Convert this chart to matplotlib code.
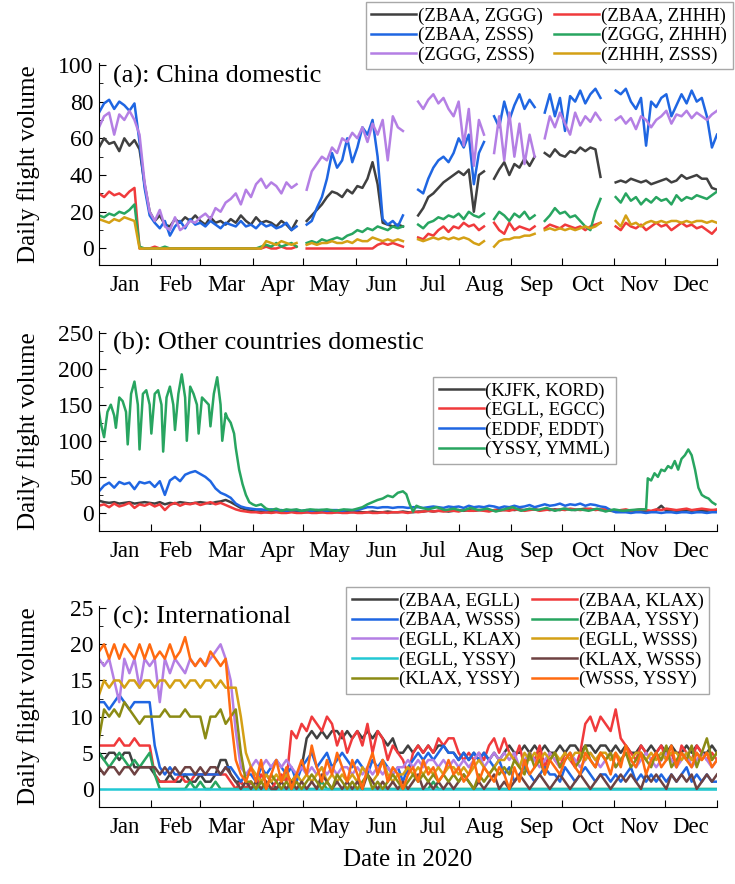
import matplotlib
matplotlib.use('Agg')
import matplotlib.pyplot as plt
import numpy as np

plt.rcParams['font.family'] = ['Liberation Serif', 'DejaVu Serif']
plt.rcParams['font.size'] = 16

nan = np.nan

# sample days (every 3 days, day 0 = 1 Jan 2020)
days = np.arange(0, 367, 3)
months = ['Jan', 'Feb', 'Mar', 'Apr', 'May', 'Jun', 'Jul', 'Aug', 'Sep', 'Oct', 'Nov', 'Dec']
month_len = [31, 29, 31, 30, 31, 30, 31, 31, 30, 31, 30, 31]

# ---- (a) China domestic ----
zbaa_zggg = [55, 60, 57, 58, 53, 60, 56, 59, 54, 35,
             20, 15, 18, 13, 12, 16, 14, 17, 15, 18,
             15, 13, 17, 14, 15, 13, 16, 14, 18, 15,
             13, 17, 14, 15, 14, 12, 15, 13, 10, 15,
             nan, 15, 18, 21, 24, 28, 31, 30, 28, 32,
             30, 34, 33, 38, 47, 35, 14, 13, 12, 13,
             12, nan, nan, 18, 22, 28, 30, 33, 36, 38,
             40, 42, 40, 43, 20, 40, 42, nan, 38, 43,
             47, 40, 46, 44, 49, 45, 50, nan, 52, 50,
             54, 51, 50, 53, 52, 55, 53, 55, 54, 39,
             nan, nan, 36, 37, 36, 38, 37, 36, 37, 35,
             36, 37, 38, 36, 37, 40, 38, 39, 40, 38,
             38, 33, 32]
zbaa_zhhh = [30, 28, 31, 29, 30, 28, 31, 33, 0, 0,
             0, 1, 0, 0, 0, 0, 0, 0, 0, 0,
             0, 0, 0, 0, 0, 0, 0, 0, 0, 0,
             0, 0, 0, 1, 0, 0, 1, 0, 0, 1,
             nan, 0, 0, 0, 0, 0, 0, 0, 0, 0,
             0, 0, 0, 0, 0, 2, 3, 2, 3, 2,
             1, nan, nan, 6, 5, 8, 7, 10, 12, 9,
             12, 11, 14, 12, 13, 10, 12, nan, 14, 10,
             8, 14, 10, 12, 11, 10, 12, nan, 11, 13,
             12, 11, 13, 12, 11, 12, 10, 12, 13, 14,
             nan, nan, 12, 10, 14, 12, 11, 13, 10, 12,
             14, 12, 13, 10, 12, 14, 12, 13, 11, 12,
             10, 8, 11]
zbaa_zsss = [74, 79, 81, 76, 80, 78, 75, 79, 58, 33,
             18, 14, 11, 15, 7, 12, 15, 11, 16, 13,
             14, 12, 15, 13, 11, 14, 13, 12, 15, 12,
             13, 11, 14, 12, 13, 11, 12, 14, 10, 12,
             nan, 13, 15, 22, 28, 38, 52, 44, 48, 60,
             47, 55, 66, 62, 70, 50, 16, 13, 15, 12,
             18, nan, nan, 32, 30, 38, 44, 48, 50, 47,
             52, 60, 55, 62, 35, 52, 58, nan, 72, 66,
             80, 70, 78, 84, 76, 81, 77, nan, 74, 84,
             72, 82, 64, 83, 80, 86, 79, 84, 87, 82,
             nan, nan, 86, 84, 87, 80, 76, 82, 56, 80,
             77, 82, 84, 72, 78, 84, 79, 86, 80, 82,
             72, 55, 62]
zggg_zhhh = [18, 17, 19, 18, 20, 19, 21, 24, 1, 0,
             0, 0, 0, 1, 0, 0, 0, 0, 0, 0,
             0, 0, 0, 0, 0, 0, 0, 0, 0, 0,
             0, 0, 1, 2, 1, 3, 1, 2, 3, 1,
             nan, 3, 4, 3, 5, 4, 5, 6, 5, 7,
             8, 10, 9, 11, 10, 12, 11, 10, 12, 11,
             12, nan, nan, 13, 11, 14, 15, 17, 16, 18,
             17, 19, 16, 20, 18, 17, 19, nan, 16, 20,
             18, 15, 19, 17, 20, 16, 18, nan, 15, 18,
             22, 19, 20, 17, 18, 15, 12, 10, 20, 27,
             nan, nan, 28, 25, 30, 26, 28, 24, 27, 25,
             28, 26, 27, 24, 29, 26, 28, 27, 29, 28,
             27, 29, 31]
zggg_zsss = [66, 72, 74, 62, 73, 70, 75, 70, 62, 36,
             20, 15, 21, 12, 10, 17, 10, 12, 15, 14,
             17, 19, 16, 22, 20, 25, 27, 30, 24, 32,
             28, 35, 38, 33, 36, 34, 30, 36, 33, 35,
             nan, 32, 42, 46, 50, 48, 55, 52, 60, 58,
             63, 60, 66, 58, 68, 62, 70, 48, 72, 66,
             64, nan, nan, 80, 76, 81, 84, 79, 82, 76,
             72, 80, 56, 76, 45, 70, 62, nan, 52, 72,
             48, 74, 50, 68, 46, 62, 50, nan, 60, 72,
             66, 74, 68, 62, 74, 67, 72, 69, 74, 70,
             nan, nan, 70, 72, 68, 71, 65, 72, 70, 66,
             70, 72, 75, 68, 73, 72, 75, 71, 74, 72,
             70, 73, 75]
zhhh_zsss = [16, 15, 14, 16, 15, 17, 16, 15, 0, 0,
             0, 0, 0, 0, 0, 0, 0, 0, 0, 0,
             0, 0, 0, 0, 0, 0, 0, 0, 0, 0,
             0, 0, 0, 4, 3, 2, 4, 3, 2, 3,
             nan, 2, 3, 2, 3, 3, 4, 3, 3, 4,
             3, 5, 4, 4, 6, 5, 4, 5, 4, 5,
             4, nan, nan, 5, 4, 5, 6, 5, 6, 5,
             6, 5, 6, 5, 3, 2, 4, nan, 1, 4,
             5, 5, 6, 6, 7, 7, 8, nan, 10, 11,
             10, 11, 10, 11, 10, 11, 12, 11, 12, 14,
             nan, nan, 15, 12, 18, 13, 14, 12, 14, 15,
             14, 15, 14, 15, 15, 14, 15, 14, 15, 15,
             14, 15, 14]

# ---- (b) Other countries domestic ----
kjfk_kord = [17, 15, 14, 15, 13, 14, 15, 13, 14, 15,
             14, 13, 15, 12, 14, 13, 15, 14, 13, 14,
             15, 14, 13, 15, 16, 18, 15, 11, 7, 5,
             3, 2, 2, 1, 1, 2, 1, 1, 2, 1,
             1, 1, 2, 1, 1, 2, 1, 1, 1, 2,
             1, 2, 1, 1, 2, 1, 1, 2, 1, 1,
             2, 1, 1, 2, 2, 3, 2, 3, 3, 2,
             3, 4, 3, 4, 3, 4, 4, 3, 4, 5,
             4, 5, 4, 5, 4, 5, 5, 4, 5, 4,
             5, 4, 6, 5, 4, 5, 6, 5, 5, 4,
             4, 3, 2, 3, 2, 3, 3, 2, 3, 2,
             4, 10, 3, 4, 3, 3, 4, 3, 4, 3,
             3, 4, 3]
egll_egcc = [10, 12, 8, 13, 9, 11, 14, 7, 12, 10,
             13, 9, 12, 4, 11, 14, 10, 13, 12, 14,
             11, 13, 15, 12, 14, 11, 8, 5, 3, 2,
             1, 1, 0, 1, 0, 1, 0, 0, 1, 0,
             0, 1, 0, 0, 1, 0, 0, 1, 0, 0,
             1, 0, 0, 1, 0, 0, 1, 0, 1, 1,
             1, 0, 2, 1, 2, 3, 2, 3, 2, 3,
             3, 2, 4, 3, 3, 4, 3, 2, 4, 3,
             4, 3, 5, 4, 3, 4, 5, 3, 4, 5,
             4, 5, 4, 6, 5, 4, 5, 6, 4, 5,
             5, 4, 3, 4, 5, 3, 4, 5, 4, 3,
             5, 4, 6, 5, 4, 5, 6, 4, 5, 6,
             5, 4, 5]
eddf_eddt = [30, 38, 42, 35, 43, 40, 42, 33, 43, 41,
             43, 36, 44, 25, 45, 50, 44, 53, 56, 58,
             54, 50, 44, 34, 28, 25, 21, 13, 9, 7,
             6, 5, 5, 4, 5, 4, 4, 3, 4, 4,
             3, 4, 3, 4, 4, 3, 4, 4, 3, 4,
             4, 4, 6, 8, 8, 7, 8, 8, 7, 8,
             8, 7, 8, 8, 7, 8, 9, 8, 7, 9,
             8, 9, 7, 10, 8, 9, 8, 10, 9, 7,
             9, 8, 10, 8, 9, 11, 8, 10, 12, 10,
             11, 13, 10, 12, 11, 13, 10, 12, 11, 9,
             8, 4, 1, 1, 1, 0, 1, 1, 0, 1,
             1, 0, 1, 1, 0, 1, 1, 0, 1, 1,
             0, 1, 1]
# (YSSY, YMML) has a weekly cycle, so it is read at its own days
yssy_ymml = [(0, 140), (1, 125), (3, 105), (5, 140), (7, 150), (9, 135), (10, 118),
             (12, 160), (14, 155), (16, 140), (17, 95), (19, 165), (21, 182),
             (23, 150), (24, 88), (26, 165), (28, 170), (30, 150), (31, 110),
             (33, 165), (35, 170), (37, 150), (38, 85), (40, 160), (42, 175),
             (44, 150), (45, 115), (47, 165), (49, 192), (51, 160), (52, 100),
             (54, 175), (56, 165), (58, 150), (59, 110), (61, 160), (63, 155),
             (65, 150), (66, 120), (68, 165), (70, 188), (72, 150), (73, 100),
             (75, 138), (76, 132), (78, 125), (80, 110), (81, 90), (83, 60),
             (85, 40), (87, 25), (89, 15), (91, 12), (93, 10), (96, 12), (99, 6),
             (102, 4), (105, 6), (108, 3), (111, 5), (114, 4), (117, 5), (120, 3),
             (125, 5), (130, 4), (135, 5), (140, 3), (145, 5), (150, 4), (153, 6),
             (156, 8), (159, 12), (162, 15), (165, 18), (168, 20), (171, 24),
             (174, 22), (177, 28), (180, 30), (182, 26), (184, 12), (186, 2),
             (188, 10), (191, 7), (195, 5), (200, 8), (205, 4), (210, 6), (215, 3),
             (220, 7), (225, 4), (230, 6), (235, 2), (240, 5), (245, 8), (250, 3),
             (255, 6), (260, 4), (265, 7), (270, 3), (275, 6), (280, 4), (285, 5),
             (290, 3), (295, 6), (300, 2), (305, 5), (310, 3), (315, 4), (320, 5),
             (324, 5), (325, 48), (327, 45), (329, 55), (331, 50), (333, 60),
             (335, 58), (337, 65), (339, 62), (341, 72), (343, 60), (345, 75),
             (347, 80), (349, 88), (351, 80), (353, 60), (355, 35), (357, 25),
             (359, 22), (361, 20), (363, 15), (365, 12)]

# ---- (c) International ----
zbaa_egll = [5, 4, 5, 5, 4, 5, 5, 3, 3, 3,
             3, 2, 1, 1, 2, 1, 1, 2, 1, 1,
             2, 1, 1, 2, 4, 4, 2, 1, 1, 0,
             1, 0, 1, 2, 1, 0, 1, 2, 1, 2,
             3, 7, 8, 7, 8, 7, 8, 8, 7, 8,
             7, 8, 7, 8, 7, 8, 7, 6, 7, 5,
             5, 6, 5, 6, 5, 6, 5, 6, 6, 5,
             5, 4, 5, 4, 5, 4, 5, 4, 5, 4,
             5, 6, 5, 5, 6, 5, 6, 5, 6, 5,
             5, 6, 5, 6, 6, 5, 6, 6, 5, 6,
             6, 5, 6, 5, 6, 5, 5, 6, 5, 6,
             5, 6, 5, 6, 5, 5, 6, 5, 6, 5,
             5, 6, 5]
zbaa_klax = [6, 6, 6, 6, 7, 6, 6, 7, 6, 6,
             6, 2, 1, 1, 1, 1, 2, 1, 1, 2,
             2, 2, 2, 2, 2, 2, 1, 0, 1, 0,
             1, 0, 2, 1, 0, 1, 2, 1, 8, 7,
             9, 8, 10, 9, 8, 10, 9, 6, 8, 5,
             7, 8, 6, 9, 5, 8, 7, 4, 6, 5,
             4, 2, 5, 6, 5, 6, 5, 7, 6, 7,
             7, 5, 4, 5, 4, 5, 4, 6, 7, 5,
             7, 5, 4, 6, 3, 5, 4, 6, 3, 5,
             4, 3, 5, 4, 3, 5, 9, 10, 8, 10,
             9, 8, 11, 7, 6, 5, 4, 6, 5, 4,
             5, 6, 4, 5, 3, 6, 5, 4, 6, 5,
             4, 5, 4]
zbaa_wsss = [12, 12, 11, 12, 13, 12, 11, 12, 12, 12,
             12, 6, 3, 2, 3, 2, 2, 2, 2, 2,
             2, 2, 2, 2, 2, 3, 3, 2, 1, 2,
             2, 1, 3, 2, 3, 4, 3, 2, 3, 1,
             3, 4, 5, 3, 4, 5, 3, 4, 5, 4,
             3, 4, 3, 2, 4, 3, 4, 3, 2, 3,
             1, 3, 4, 5, 4, 5, 4, 5, 6, 5,
             5, 4, 5, 4, 5, 4, 5, 4, 3, 4,
             2, 3, 1, 2, 3, 2, 1, 2, 3, 2,
             2, 1, 3, 2, 1, 2, 3, 2, 1, 2,
             2, 1, 2, 1, 2, 3, 1, 2, 1, 2,
             1, 2, 1, 2, 1, 2, 3, 1, 2, 1,
             2, 1, 1]
zbaa_yssy = [5, 4, 3, 4, 5, 4, 3, 4, 3, 4,
             5, 2, 0, 0, 0, 0, 0, 0, 1, 0,
             1, 0, 0, 1, 0, 0, 0, 0, 0, 0,
             0, 0, 0, 0, 0, 0, 0, 0, 0, 0,
             0, 0, 0, 0, 1, 0, 0, 0, 0, 0,
             0, 0, 0, 0, 0, 0, 0, 0, 0, 0,
             0, 0, 0, 0, 0, 0, 1, 0, 0, 0,
             0, 0, 0, 0, 0, 0, 0, 0, 0, 0,
             0, 0, 0, 0, 0, 0, 0, 0, 0, 0,
             0, 0, 0, 0, 0, 0, 0, 0, 0, 0,
             0, 0, 0, 0, 0, 0, 0, 0, 0, 0,
             0, 0, 0, 0, 0, 0, 0, 0, 0, 0,
             0, 0, 0]
egll_klax = [18, 17, 18, 15, 12, 18, 16, 18, 14, 18,
             17, 18, 12, 18, 16, 18, 17, 16, 18, 17,
             18, 17, 18, 19, 20, 18, 15, 8, 3, 2,
             3, 4, 3, 4, 3, 4, 3, 4, 3, 2,
             3, 2, 3, 2, 3, 2, 3, 2, 3, 3,
             2, 3, 2, 3, 2, 3, 2, 3, 2, 3,
             3, 4, 3, 4, 3, 4, 4, 3, 4, 3,
             4, 3, 4, 3, 4, 5, 3, 4, 5, 4,
             5, 4, 5, 3, 4, 5, 4, 3, 4, 5,
             4, 3, 4, 5, 4, 3, 4, 5, 4, 3,
             4, 5, 3, 4, 5, 4, 3, 4, 5, 4,
             3, 4, 5, 4, 3, 4, 5, 3, 4, 5,
             4, 3, 4]
egll_wsss = [13, 15, 14, 15, 15, 14, 15, 15, 14, 15,
             15, 14, 15, 15, 14, 15, 15, 14, 15, 15,
             14, 15, 15, 14, 15, 14, 14, 14, 10, 5,
             3, 2, 1, 2, 1, 2, 1, 2, 1, 2,
             1, 2, 1, 2, 3, 1, 2, 1, 2, 1,
             2, 1, 3, 2, 1, 2, 4, 2, 1, 2,
             2, 3, 2, 3, 2, 3, 2, 3, 2, 3,
             3, 2, 3, 2, 3, 4, 3, 2, 3, 4,
             4, 5, 4, 3, 5, 4, 5, 4, 5, 4,
             5, 4, 5, 4, 5, 5, 4, 5, 4, 5,
             5, 4, 5, 4, 5, 4, 5, 5, 4, 5,
             4, 5, 4, 5, 5, 4, 5, 4, 5, 4,
             5, 4, 5]
egll_yssy = [0, 0, 0, 0, 0, 0, 0, 0, 0, 0,
             0, 0, 0, 0, 0, 0, 0, 0, 0, 0,
             0, 0, 0, 0, 0, 0, 0, 0, 0, 0,
             0, 0, 0, 0, 0, 0, 0, 0, 0, 0,
             0, 0, 0, 0, 0, 0, 0, 0, 0, 0,
             0, 0, 0, 0, 0, 0, 0, 0, 0, 0,
             0, 0, 0, 0, 0, 0, 0, 0, 0, 0,
             0, 0, 0, 0, 0, 0, 0, 0, 0, 0,
             0, 0, 0, 0, 0, 0, 0, 0, 0, 0,
             0, 0, 0, 0, 0, 0, 0, 0, 0, 0,
             0, 0, 0, 0, 0, 0, 0, 0, 0, 0,
             0, 0, 0, 0, 0, 0, 0, 0, 0, 0,
             0, 0, 0]
klax_wsss = [3, 2, 3, 3, 2, 3, 3, 2, 3, 3,
             3, 3, 2, 3, 2, 3, 2, 3, 3, 2,
             3, 2, 3, 3, 2, 3, 2, 1, 0, 1,
             0, 1, 0, 1, 0, 0, 1, 0, 1, 0,
             1, 0, 1, 0, 2, 1, 0, 1, 0, 1,
             0, 1, 0, 2, 1, 0, 1, 0, 1, 0,
             1, 0, 1, 2, 0, 1, 0, 1, 0, 1,
             0, 1, 2, 1, 0, 1, 0, 1, 2, 0,
             1, 0, 1, 2, 1, 0, 1, 2, 1, 0,
             1, 2, 1, 0, 1, 2, 1, 0, 1, 2,
             1, 0, 1, 2, 1, 2, 1, 0, 2, 1,
             2, 1, 0, 2, 1, 2, 1, 2, 0, 1,
             2, 1, 2]
klax_yssy = [7, 11, 10, 11, 10, 12, 11, 10, 9, 10,
             10, 10, 10, 11, 10, 10, 10, 11, 10, 10,
             10, 7, 10, 10, 11, 9, 10, 11, 5, 1,
             1, 0, 1, 0, 2, 1, 0, 1, 0, 1,
             0, 1, 2, 1, 0, 1, 0, 2, 1, 0,
             1, 0, 1, 2, 0, 1, 0, 1, 2, 1,
             0, 1, 2, 1, 2, 1, 2, 1, 2, 1,
             2, 1, 2, 1, 0, 2, 1, 2, 3, 2,
             3, 2, 4, 3, 2, 5, 3, 4, 2, 4,
             5, 3, 4, 5, 3, 4, 6, 4, 3, 5,
             4, 5, 3, 4, 5, 3, 4, 5, 4, 3,
             5, 4, 6, 3, 4, 5, 4, 6, 3, 5,
             7, 4, 5]
wsss_yssy = [19, 20, 18, 20, 18, 20, 19, 18, 20, 18,
             20, 18, 19, 18, 20, 18, 19, 21, 18, 17,
             18, 17, 19, 18, 17, 18, 10, 4, 2, 1,
             3, 1, 4, 0, 2, 4, 1, 3, 0, 2,
             4, 2, 6, 3, 1, 4, 2, 5, 3, 1,
             4, 2, 0, 3, 5, 2, 4, 1, 3, 2,
             0, 2, 3, 1, 4, 2, 3, 1, 2, 4,
             2, 3, 1, 2, 4, 1, 3, 2, 1, 3,
             2, 0, 3, 1, 4, 2, 3, 5, 2, 4,
             3, 2, 4, 5, 3, 2, 5, 4, 3, 5,
             4, 2, 5, 3, 6, 4, 3, 5, 2, 4,
             5, 3, 4, 6, 3, 5, 4, 3, 5, 4,
             5, 3, 4]

c_black = '#404040'
c_red = '#f03a3c'
c_blue = '#1f66e2'
c_green = '#28a560'
c_purple = '#b47fe4'
c_gold = '#d4a015'
c_cyan = '#22c8d4'
c_brown = '#6e4242'
c_olive = '#8b8b14'
c_orange = '#ff6a10'

lw = 1.8
fig = plt.figure(figsize=(7.35, 8.84), dpi=100)
axA = fig.add_axes([0.1347, 0.7002, 0.8408, 0.2285])
axB = fig.add_axes([0.1347, 0.3993, 0.8408, 0.2262])
axC = fig.add_axes([0.1347, 0.0871, 0.8408, 0.2274])

month_start = np.concatenate([[0], np.cumsum(month_len)])
month_mid = month_start[:-1] + np.array(month_len) / 2


def style(ax, ylim, major, minor, title, ty):
    ax.set_xlim(0, 366)
    ax.set_ylim(*ylim)
    ax.spines['top'].set_visible(False)
    ax.spines['right'].set_visible(False)
    ax.set_xticks(month_start)
    ax.set_xticklabels([])
    ax.set_xticks(month_mid, minor=True)
    ax.set_xticklabels(months, minor=True)
    ax.tick_params(axis='x', which='major', direction='in', length=5)
    ax.tick_params(axis='x', which='minor', length=0, pad=7, labelsize=16.5)
    ax.set_yticks(np.arange(0, ylim[1] + 0.01, major))
    ax.set_yticks(np.arange(minor, ylim[1], major), minor=True)
    ax.tick_params(axis='y', which='major', direction='in', length=5, pad=4, labelsize=17)
    ax.tick_params(axis='y', which='minor', direction='in', length=3)
    ax.set_ylabel('Daily flight volume', fontsize=18)
    ax.yaxis.set_label_coords(-0.095, 0.5)
    ax.text(0.022, ty, title, transform=ax.transAxes, fontsize=19, va='center')


def leg(ax, handles, labels, order, anchor, loc):
    lg = ax.legend([handles[i] for i in order], [labels[i] for i in order], ncol=2 if len(order) > 4 else 1,
                   loc=loc, bbox_to_anchor=anchor, bbox_transform=fig.transFigure,
                   fontsize=13.5, handlelength=2.4, handletextpad=0.1, columnspacing=0.6,
                   labelspacing=0.12, borderpad=0.3, borderaxespad=0, fancybox=False, framealpha=1)
    lg.get_frame().set_edgecolor('#a8a8a8')
    lg.get_frame().set_linewidth(1.0)


# panel a
seriesA = [(zbaa_zggg, c_black, '(ZBAA, ZGGG)'), (zbaa_zhhh, c_red, '(ZBAA, ZHHH)'),
           (zbaa_zsss, c_blue, '(ZBAA, ZSSS)'), (zggg_zhhh, c_green, '(ZGGG, ZHHH)'),
           (zggg_zsss, c_purple, '(ZGGG, ZSSS)'), (zhhh_zsss, c_gold, '(ZHHH, ZSSS)')]
hA = []
for vals, col, lab in seriesA:
    hA += axA.plot(days[:len(vals)], vals, color=col, lw=lw, label=lab)
style(axA, (-9, 101), 20, 10, '(a): China domestic', 0.935)
leg(axA, hA, [s[2] for s in seriesA], [0, 2, 4, 1, 3, 5], (0.997, 0.998), 'upper right')

# panel b
yd = [p[0] for p in yssy_ymml]
yv = [p[1] for p in yssy_ymml]
hB = []
hB += axB.plot(days, kjfk_kord, color=c_black, lw=lw)
hB += axB.plot(days, egll_egcc, color=c_red, lw=lw)
hB += axB.plot(days, eddf_eddt, color=c_blue, lw=lw)
hB += axB.plot(yd, yv, color=c_green, lw=lw)
style(axB, (-25, 252), 50, 25, '(b): Other countries domestic', 0.94)
leg(axB, hB, ['(KJFK, KORD)', '(EGLL, EGCC)', '(EDDF, EDDT)', '(YSSY, YMML)'], [0, 1, 2, 3],
    (0.589, 0.574), 'upper left')

# panel c
seriesC = [(zbaa_egll, c_black, '(ZBAA, EGLL)'), (zbaa_klax, c_red, '(ZBAA, KLAX)'),
           (zbaa_wsss, c_blue, '(ZBAA, WSSS)'), (zbaa_yssy, c_green, '(ZBAA, YSSY)'),
           (egll_klax, c_purple, '(EGLL, KLAX)'), (egll_wsss, c_gold, '(EGLL, WSSS)'),
           (egll_yssy, c_cyan, '(EGLL, YSSY)'), (klax_wsss, c_brown, '(KLAX, WSSS)'),
           (klax_yssy, c_olive, '(KLAX, YSSY)'), (wsss_yssy, c_orange, '(WSSS, YSSY)')]
hC = []
for vals, col, lab in seriesC:
    hC += axC.plot(days[:len(vals)], vals, color=col, lw=lw)
style(axC, (-2.5, 25.3), 5, 2.5, '(c): International', 0.945)
leg(axC, hC, [s[2] for s in seriesC], [0, 2, 4, 6, 8, 1, 3, 5, 7, 9], (0.471, 0.336), 'upper left')
axC.set_xlabel('Date in 2020', fontsize=18, labelpad=8)

fig.savefig('out.png', dpi=100)
